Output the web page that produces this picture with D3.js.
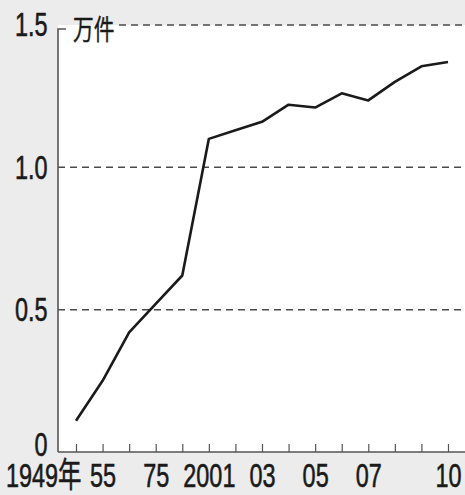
<!DOCTYPE html>
<html>
<head>
<meta charset="utf-8">
<script src="https://cdn.jsdelivr.net/npm/d3@7"></script>
<style>
  body { margin: 0; background: #ececec; }
  svg { display: block; }
</style>
</head>
<body>
<script>
// Data (unit: 万件)
const years = ['1949', '1955', '1965', '1975', '1990', '2001', '2002', '2003', '2004', '2005', '2006', '2007', '2008', '2009', '2010'];
const tickLabels = ['1949年', '55', '', '75', '', '2001', '', '03', '', '05', '', '07', '', '', '10'];
const counts = [0.11, 0.25, 0.42, 0.52, 0.62, 1.10, 1.13, 1.16, 1.22, 1.21, 1.26, 1.235, 1.30, 1.355, 1.37];
const yTicks = [0, 0.5, 1.0, 1.5];
const yTickLabels = ['0', '0.5', '1.0', '1.5'];

let width = 465, height = 495;
let margin = { top: 25, bottom: 42, left: 58, right: 0 };
let squeeze = 0.69;  // condensed look of the numbers

let data = years.map((yr, i) => ({ year: yr, value: counts[i] }));

let svg = d3.select('body')
    .append('svg')
    .attr('width', width)
    .attr('height', height)
    .style('background', '#ececec');

// Scales
let xScale = d3.scalePoint()
    .domain(years)
    .range([76, 448]);

let yScale = d3.scaleLinear()
    .domain([0, 1.5])
    .range([height - margin.bottom - 1, margin.top]);

let axisY = 452;

// White plot area
svg.append('rect')
    .attr('x', margin.left)
    .attr('y', yScale(1.5))
    .attr('width', width - margin.left)
    .attr('height', axisY - yScale(1.5))
    .attr('fill', '#ffffff');

// Dashed gridlines
svg.selectAll('.grid')
    .data(yTicks.filter(d => d > 0))
    .enter()
    .append('line')
    .attr('class', 'grid')
    .attr('x1', d => d === 1.5 ? 119 : margin.left)
    .attr('x2', width)
    .attr('y1', d => yScale(d))
    .attr('y2', d => yScale(d))
    .attr('stroke', '#4a4a4a')
    .attr('stroke-width', 1.5)
    .attr('stroke-dasharray', '7,5');

// Y axis (labels only, line drawn by hand)
let yAxis = svg.append('g')
    .attr('transform', `translate(${margin.left},0)`)
    .call(d3.axisLeft(yScale)
        .tickValues(yTicks)
        .tickSize(0)
        .tickPadding(15)
        .tickFormat((d, i) => yTickLabels[i]));

yAxis.select('.domain').remove();
yAxis.selectAll('text')
    .attr('transform', `scale(${squeeze},1)`)
    .style('font-family', 'Liberation Sans, Arial, sans-serif')
    .style('font-size', '34px')
    .style('fill', '#1a1a1a')
    .style('stroke', '#1a1a1a')
    .style('stroke-width', 0.6);
yAxis.selectAll('text').filter(d => d === 0).attr('dy', '0.1em');

let topY = yScale(1.5) + 4;
svg.append('path')
    .attr('d', `M${margin.left + 8},${topY}H${margin.left}V${axisY}`)
    .attr('fill', 'none')
    .attr('stroke', '#555')
    .attr('stroke-width', 1.6);

// Unit label
svg.append('text')
    .attr('transform', `translate(73,40) scale(0.74,1)`)
    .style('font-family', 'Noto Sans CJK JP, sans-serif')
    .style('font-size', '28px')
    .style('fill', '#1a1a1a')
    .style('stroke', '#1a1a1a')
    .style('stroke-width', 0.4)
    .text('万件');

// X axis
let xAxis = svg.append('g')
    .attr('transform', `translate(0,${axisY})`)
    .call(d3.axisBottom(xScale)
        .tickSize(-8)
        .tickPadding(11)
        .tickFormat((d, i) => tickLabels[i]));

xAxis.select('.domain').remove();
xAxis.selectAll('line')
    .attr('stroke', '#555')
    .attr('stroke-width', 1.2);
xAxis.selectAll('text')
    .attr('transform', `scale(${squeeze},1)`)
    .style('font-family', 'Liberation Sans, Noto Sans CJK JP, sans-serif')
    .style('font-size', '34px')
    .style('fill', '#1a1a1a')
    .style('stroke', '#1a1a1a')
    .style('stroke-width', 0.6);
xAxis.selectAll('text').filter(d => d === '1949')
    .attr('text-anchor', 'end')
    .attr('x', 5 / squeeze);

svg.append('line')
    .attr('x1', margin.left)
    .attr('x2', width)
    .attr('y1', axisY)
    .attr('y2', axisY)
    .attr('stroke', '#555')
    .attr('stroke-width', 1.6);

// Line
let line = d3.line()
    .x(d => xScale(d.year))
    .y(d => yScale(d.value));

svg.append('path')
    .datum(data)
    .attr('d', line)
    .attr('fill', 'none')
    .attr('stroke', '#1a1a1a')
    .attr('stroke-width', 2.6)
    .attr('stroke-linejoin', 'round');
</script>
</body>
</html>
